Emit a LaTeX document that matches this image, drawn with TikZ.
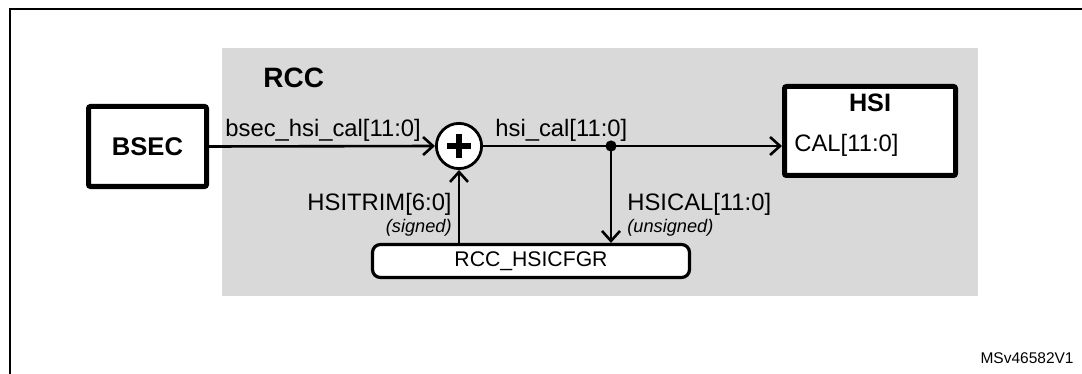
\documentclass[tikz,border=0pt]{standalone}
\usepackage{fontspec}
\setmainfont{Liberation Sans}
\usetikzlibrary{arrows.meta, positioning}
\definecolor{rccgray}{RGB}{217,217,217}

\begin{document}
\begin{tikzpicture}[
    x=0.5pt, y=-0.5pt,
    font=\fontsize{11.9}{14}\selectfont,
    >={Straight Barb[length=5pt, width=9pt, line width=1.3pt]},
    % Node styles
    blockbox/.style={
        rectangle, rounded corners=1pt,
        draw=black, line width=2.5pt, fill=white,
        inner sep=0pt, align=center,
        font=\fontsize{12.8}{15}\selectfont\bfseries
    },
    regbox/.style={
        rectangle, rounded corners=4pt,
        draw=black, line width=1.6pt, fill=white,
        minimum width=158.5pt, minimum height=16.5pt,
        inner sep=0pt, font=\fontsize{10.6}{12}\selectfont
    },
    adderbox/.style={
        circle, draw=black, line width=1.4pt, fill=white,
        minimum size=22.6pt, inner sep=0pt
    },
    plusbar/.style={line width=2.8pt},
    sigarrow/.style={->, line width=1.3pt},
    siglbl/.style={inner sep=0pt},
    notelbl/.style={inner sep=0pt, font=\fontsize{9.1}{11}\selectfont\itshape},
]
\useasboundingbox (0,0) rectangle (1082,374);

%% ---- frame + RCC area ----
\draw[line width=1.4pt] (1100,9) -| (10,390);
\fill[rccgray] (222,48) rectangle (978,296);
\node[siglbl, anchor=base west, font=\fontsize{14}{16}\selectfont\bfseries] (rcclbl) at (263,88) {RCC};

%% ---- blocks ----
\node[blockbox, minimum width=59pt, minimum height=40pt] (bsec) at (147.5,146.5) {BSEC};
\node[blockbox, minimum width=85.5pt, minimum height=44.5pt] (hsi) at (870,131) {};
\node[siglbl, anchor=base, font=\fontsize{12.6}{15}\selectfont\bfseries] (hsititle) at (870,112) {HSI};
\node[siglbl, anchor=base west] (hsical) at (794,152) {CAL[11:0]};

\node[adderbox] (adder) at (459,146) {};
\draw[plusbar] ([xshift=-6pt]adder.center) -- ([xshift=6pt]adder.center);
\draw[plusbar] ([yshift=-6pt]adder.center) -- ([yshift=6pt]adder.center);

\node[regbox] (hsicfgr) at (531,261) {RCC\_HSICFGR};

\coordinate (split) at (611,146);

%% ---- ARROWS ----
% BSEC -> adder
\draw[sigarrow] (bsec.east) -- (adder.west);
% adder -> HSI
\draw[line width=1.3pt] (adder.east) -- (split);
\draw[sigarrow] (split) -- (split -| hsi.west);
\fill (split) circle (2.8pt);
% split -> register
\draw[sigarrow] (split) -- (split |- hsicfgr.north);
% register -> adder
\draw[sigarrow] (adder |- hsicfgr.north) -- (adder.south);

%% ---- LABELS ----
\node[siglbl, anchor=base west] (lblbsec) at (225,137) {bsec\_hsi\_cal[11:0]};
\node[siglbl, anchor=base west] (lblcal) at (495,137) {hsi\_cal[11:0]};
\node[siglbl, anchor=base east] (lbltrim) at (452,211) {HSITRIM[6:0]};
\node[notelbl, anchor=base east] (lblsigned) at (452,232) {(signed)};
\node[siglbl, anchor=base west] (lblhsical) at (627,211) {HSICAL[11:0]};
\node[notelbl, anchor=base west] (lblunsigned) at (627,232) {(unsigned)};

\node[siglbl, anchor=base east, font=\fontsize{7.75}{9}\selectfont] (docid) at (1074,363) {MSv46582V1};

\end{tikzpicture}
\end{document}
